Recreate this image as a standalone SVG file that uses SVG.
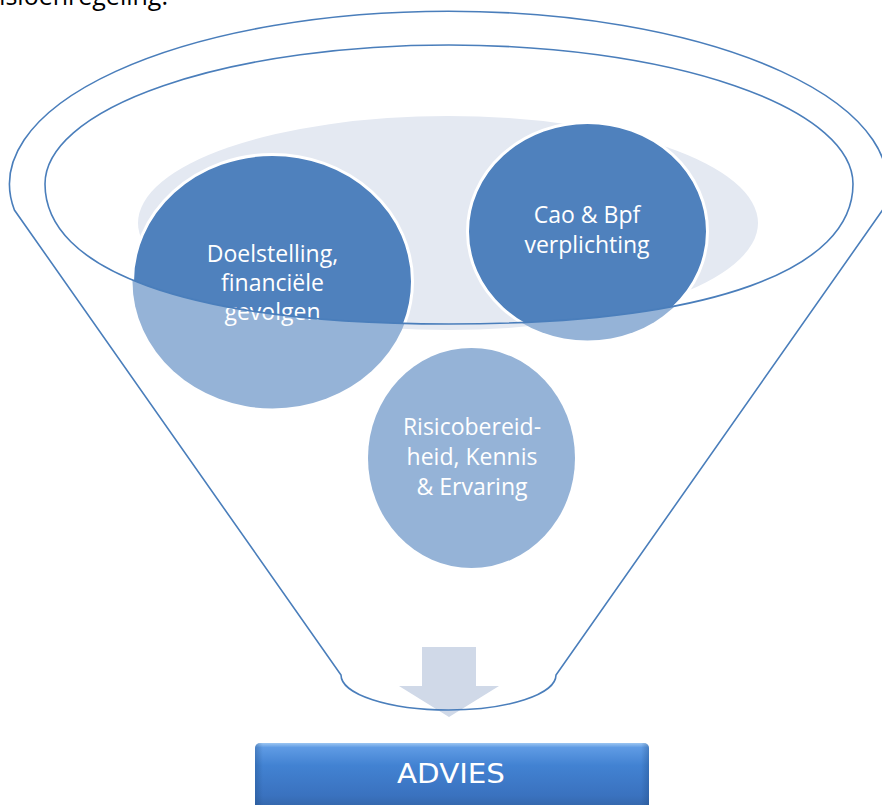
<svg xmlns="http://www.w3.org/2000/svg" width="882" height="805" viewBox="0 0 882 805">
  <defs>
    <style>
      .outline { fill: none; stroke: #4a7ebb; stroke-width: 1.6; }
      .light { fill: #95b3d7; }
      .dark { fill: #4f81bd; stroke: #ffffff; stroke-width: 3; }
      .label { fill: #ffffff; font-family: "Open Sans", "Noto Sans", sans-serif; font-size: 23px; text-anchor: middle; }
    </style>
    <clipPath id="innerClip">
      <path d="M 45 184 A 404 139 0 0 1 853 184 C 853 269 714 324 449 324 C 184 324 45 269 45 184 Z"/>
    </clipPath>
    <linearGradient id="btn" x1="0" y1="0" x2="0" y2="1">
      <stop offset="0" stop-color="#9cc6f2"/>
      <stop offset="0.06" stop-color="#5f9be4"/>
      <stop offset="0.3" stop-color="#4282d2"/>
      <stop offset="0.7" stop-color="#3a72bf"/>
      <stop offset="1" stop-color="#2f5c98"/>
    </linearGradient>
    <linearGradient id="btnSide" x1="0" y1="0" x2="1" y2="0">
      <stop offset="0" stop-color="#1f4a80" stop-opacity="0.35"/>
      <stop offset="0.02" stop-color="#1f4a80" stop-opacity="0"/>
      <stop offset="0.98" stop-color="#1f4a80" stop-opacity="0"/>
      <stop offset="1" stop-color="#1f4a80" stop-opacity="0.35"/>
    </linearGradient>
  </defs>

  <rect width="882" height="805" fill="#ffffff"/>

  <text x="168" y="5" font-family="'Open Sans', 'Noto Sans', sans-serif" font-size="25" fill="#000000" text-anchor="end">pensioenregeling.</text>

  <!-- background ellipse -->
  <ellipse id="bg-ellipse" cx="448" cy="223" rx="310" ry="107" fill="#e4e9f2"/>

  <g id="node-doelstelling">
    <ellipse class="light" cx="272.5" cy="281.5" rx="140" ry="127"/>
    <ellipse class="dark" cx="272.5" cy="281.5" rx="140" ry="127" clip-path="url(#innerClip)"/>
    <text class="label" x="272.5" y="261.5">Doelstelling,</text>
    <text class="label" x="272.5" y="290.5">financiële</text>
    <text class="label" x="272.5" y="319.5">gevolgen</text>
  </g>

  <g id="node-cao">
    <ellipse class="light" cx="587.5" cy="231.5" rx="120" ry="109"/>
    <ellipse class="dark" cx="587.5" cy="231.5" rx="120" ry="109" clip-path="url(#innerClip)"/>
    <text class="label" x="587" y="223">Cao &amp; Bpf</text>
    <text class="label" x="587" y="253">verplichting</text>
  </g>

  <g id="node-risico">
    <ellipse class="light" cx="471.5" cy="458" rx="103.5" ry="110"/>
    <text class="label" x="472" y="435">Risicobereid-</text>
    <text class="label" x="472" y="465">heid, Kennis</text>
    <text class="label" x="472" y="495">&amp; Ervaring</text>
  </g>

  <g id="connectors">
    <polygon points="422,647 476,647 476,686 499,686 449,717 399,686 422,686" fill="#d0d9e8"/>
  </g>

  <g id="funnel">
    <path class="outline" d="M 45 184 A 404 139 0 0 1 853 184 C 853 269 714 324 449 324 C 184 324 45 269 45 184 Z"/>
    <path class="outline" d="M 14.4 210 A 439 173 0 1 1 882.6 210 L 556 675 A 107.5 35 0 0 1 341 675 Z"/>
  </g>

  <g id="node-advies">
    <rect x="255" y="743" width="394" height="75" rx="5" fill="url(#btn)"/>
    <rect x="255" y="743" width="394" height="75" rx="5" fill="url(#btnSide)"/>
    <text x="451" y="782.5" font-family="'DejaVu Sans', 'Liberation Sans', sans-serif" font-size="26" fill="#ffffff" text-anchor="middle" textLength="108" lengthAdjust="spacingAndGlyphs">ADVIES</text>
  </g>
</svg>
